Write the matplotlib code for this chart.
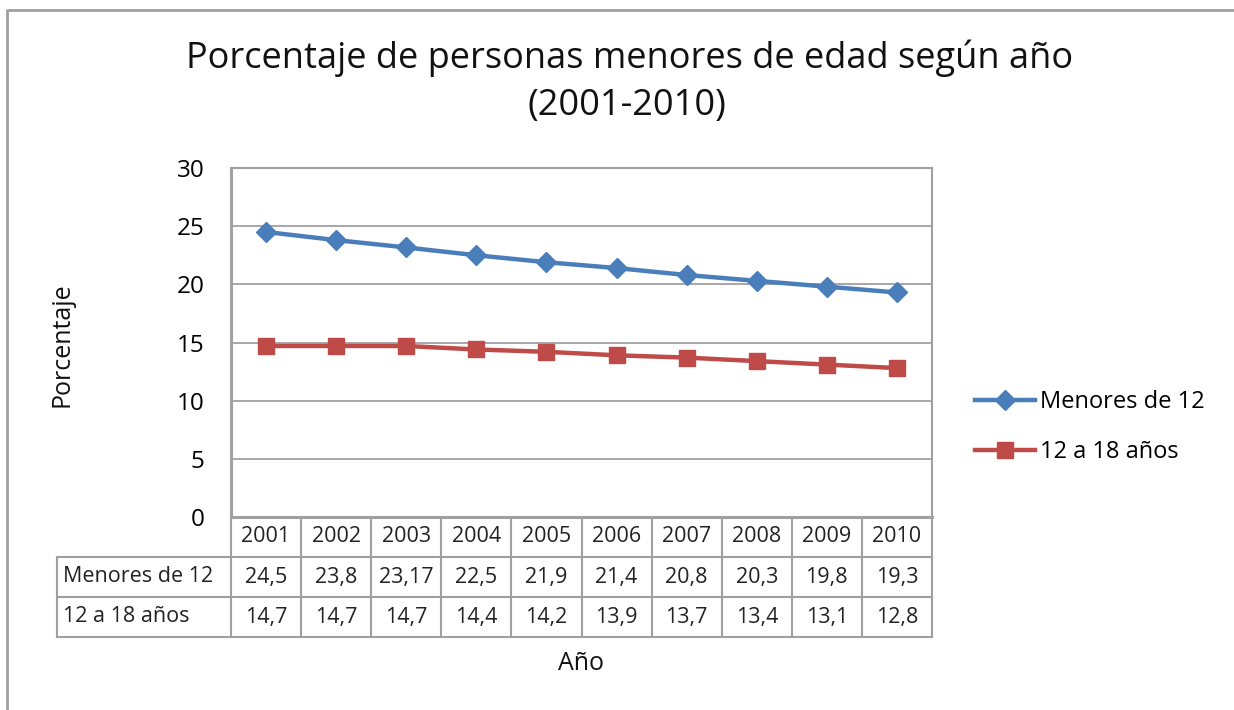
import matplotlib.pyplot as plt

plt.rcParams['font.family'] = ['Open Sans', 'DejaVu Sans']

# datos
years = ['2001', '2002', '2003', '2004', '2005', '2006', '2007', '2008', '2009', '2010']
menores_12 = [24.5, 23.8, 23.17, 22.5, 21.9, 21.4, 20.8, 20.3, 19.8, 19.3]
de_12_a_18 = [14.7, 14.7, 14.7, 14.4, 14.2, 13.9, 13.7, 13.4, 13.1, 12.8]
series_names = ['Menores de 12', '12 a 18 años']
series_labels = [['24,5', '23,8', '23,17', '22,5', '21,9', '21,4', '20,8', '20,3', '19,8', '19,3'],
                 ['14,7', '14,7', '14,7', '14,4', '14,2', '13,9', '13,7', '13,4', '13,1', '12,8']]
yticks = [0, 5, 10, 15, 20, 25, 30]

W, H = 1234, 710
fig = plt.figure(figsize=(W / 100, H / 100), dpi=100)
grey = '#A0A0A0'

# marco exterior
frame = fig.add_axes([0, 0, 1, 1], zorder=-5)
frame.set_xlim(0, W)
frame.set_ylim(H, 0)
frame.axis('off')
frame.plot([7, 7, W + 5], [H + 5, 10, 10], color=grey, lw=2)

# area del grafico
x0, x1, ytop, ybot = 231, 932, 168, 517
ax = fig.add_axes([x0 / W, 1 - ybot / H, (x1 - x0) / W, (ybot - ytop) / H])
xs = [i + 0.5 for i in range(len(years))]
ax.plot(xs, menores_12, color='#4A7EBB', lw=3.2, marker='D', ms=10, label=series_names[0], zorder=3)
ax.plot(xs, de_12_a_18, color='#BE4B48', lw=3.2, marker='s', ms=11, label=series_names[1], zorder=3)
ax.set_xlim(0, len(years))
ax.set_ylim(0, 30)
ax.set_yticks(yticks)
ax.set_yticklabels([str(v) for v in yticks], fontsize=17.5)
ax.set_xticks([])
ax.tick_params(axis='y', length=0, pad=19)
ax.grid(axis='y', color=grey, lw=1.3)
for s in ax.spines.values():
    s.set_color(grey)
    s.set_linewidth(1.5)
ax.spines['left'].set_linewidth(2.2)
ax.spines['bottom'].set_linewidth(2.2)

# tabla de datos
tab_left, row_h = 57, 40
col_w = (x1 - x0) / len(years)
tc = '#222222'
fs_tab = 15.5
for i, yr in enumerate(years):
    cx = x0 + col_w * (i + 0.5)
    frame.text(cx, ybot + row_h * 0.5, yr, ha='center', va='center', fontsize=fs_tab, color=tc)
    for r in range(2):
        frame.text(cx, ybot + row_h * (r + 1.5), series_labels[r][i], ha='center', va='center',
                   fontsize=fs_tab, color=tc)
for r in range(2):
    frame.text(tab_left + 6, ybot + row_h * (r + 1.5), series_names[r], ha='left', va='center',
               fontsize=fs_tab, color=tc)
for k in range(len(years) + 1):
    xx = x0 + col_w * k
    frame.plot([xx, xx], [ybot, ybot + 3 * row_h], color=grey, lw=1.5)
frame.plot([tab_left, tab_left], [ybot + row_h, ybot + 3 * row_h], color=grey, lw=1.5)
for r in range(1, 4):
    frame.plot([tab_left, x1], [ybot + row_h * r, ybot + row_h * r], color=grey, lw=1.5)

# textos
frame.text(630, 58, 'Porcentaje de personas menores de edad según año', ha='center', va='center',
           fontsize=26, color='#111111')
frame.text(627, 106, '(2001-2010)', ha='center', va='center', fontsize=26, color='#111111')
frame.text(62, 345, 'Porcentaje', ha='center', va='center', rotation=90, fontsize=18, color='#111111')
frame.text(581, 663, 'Año', ha='center', va='center', fontsize=18, color='#111111')

# leyenda
fig.legend(handles=ax.get_lines(), loc='center left', bbox_to_anchor=(954 / W, 1 - 427 / H),
           frameon=False, fontsize=17, handlelength=2.55, handletextpad=0.2, labelspacing=1.1,
           borderpad=0.4)

fig.savefig('out.png', dpi=100)
